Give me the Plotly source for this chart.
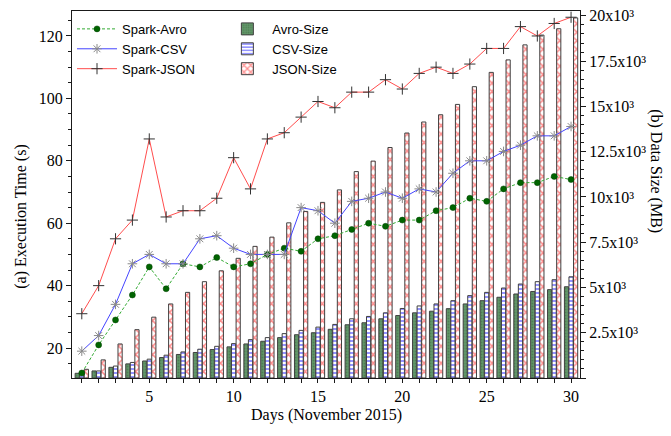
import plotly.graph_objects as go

# ---------------- data ----------------
days = list(range(1, 31))

spark_avro = [12, 21, 29, 37, 46, 39, 47, 46, 49, 46, 47, 50, 52, 51, 55,
              56, 58, 60, 59, 61, 61, 64, 65, 68, 67, 71, 73, 73, 75, 74]
spark_csv = [19, 24, 34, 47, 50, 47, 47, 55, 56, 52, 50, 50, 50, 65, 64,
             60, 67, 68, 70, 68, 71, 70, 76, 80, 80, 83, 85, 88, 88, 91]
spark_json = [31, 40, 55, 61, 87, 62, 64, 64, 68, 81, 71, 87, 89, 94, 99,
              97, 102, 102, 106, 103, 108, 110, 108, 111, 116, 116, 123, 120, 124, 126]

avro_size = [260, 390, 590, 780, 940, 1130, 1300, 1410, 1570, 1720, 1880, 2030,
             2230, 2390, 2500, 2690, 2940, 3050, 3270, 3450, 3600, 3690, 3830,
             4090, 4270, 4460, 4640, 4780, 4880, 5040]
csv_size = [300, 390, 660, 860, 1040, 1260, 1440, 1590, 1750, 1900, 2120, 2230,
            2450, 2630, 2810, 2960, 3270, 3400, 3600, 3840, 3980, 4090, 4270,
            4550, 4730, 4970, 5190, 5320, 5430, 5590]
json_size = [480, 1000, 1880, 2670, 3360, 4090, 4730, 5320, 5920, 6610, 7270, 7780,
             8570, 9200, 9700, 10390, 11400, 11980, 12730, 13530, 14140, 14540,
             15110, 16090, 16880, 17570, 18400, 18940, 19290, 19890]

x_tickvals = [5, 10, 15, 20, 25, 30]
left_tickvals = [20, 40, 60, 80, 100, 120]
right_tickvals = [0, 2500, 5000, 7500, 10000, 12500, 15000, 17500, 20000]
right_ticktext = ["", "2.5x10³", "5x10³", "7.5x10³", "10x10³", "12.5x10³",
                  "15x10³", "17.5x10³", "20x10³"]

SERIF = "Liberation Serif, Times New Roman, serif"
SANS = "Liberation Sans, Arial, sans-serif"
AXC = "#1a1a1a"

fig = go.Figure()

bar_line = dict(color="#404040", width=1)
fig.add_trace(go.Bar(
    x=days, y=avro_size, name="Avro-Size", yaxis="y", legend="legend2",
    marker=dict(color="#5b8c5b", line=bar_line,
                pattern=dict(shape=".", fgcolor="#3a683a", bgcolor="#62966a",
                             size=3, solidity=0.3))))
fig.add_trace(go.Bar(
    x=days, y=csv_size, name="CSV-Size", yaxis="y", legend="legend2",
    marker=dict(color="white", line=bar_line,
                pattern=dict(shape="-", fgcolor="#2a2aff", bgcolor="white",
                             size=4, solidity=0.5))))
fig.add_trace(go.Bar(
    x=days, y=json_size, name="JSON-Size", yaxis="y", legend="legend2",
    marker=dict(color="white", line=bar_line,
                pattern=dict(shape="x", fgcolor="#ff1a1a", bgcolor="white",
                             size=6, solidity=0.45))))

fig.add_trace(go.Scatter(
    x=days, y=spark_avro, name="Spark-Avro", yaxis="y2", mode="lines+markers",
    line=dict(color="#33aa33", width=1, dash="3px,2px"),
    marker=dict(symbol="circle", size=6, color="#006400",
                line=dict(color="#004000", width=0.5))))
fig.add_trace(go.Scatter(
    x=days, y=spark_csv, name="Spark-CSV", yaxis="y2", mode="lines+markers",
    line=dict(color="#4444ff", width=1),
    marker=dict(symbol="asterisk-open", size=8, color="#8a8a8a",
                line=dict(color="#8a8a8a", width=1))))
fig.add_trace(go.Scatter(
    x=days, y=spark_json, name="Spark-JSON", yaxis="y2", mode="lines+markers",
    line=dict(color="#ff4d4d", width=1),
    marker=dict(symbol="cross-thin-open", size=8, color="#333333",
                line=dict(color="#333333", width=1))))

axis_common = dict(showgrid=False, zeroline=False, showline=True, linecolor=AXC,
                   linewidth=1, ticks="outside", tickcolor=AXC, ticklen=5,
                   tickfont=dict(family=SERIF, size=16, color="black"))

fig.update_layout(
    width=671, height=436,
    margin=dict(l=72, r=91, t=8, b=58),
    paper_bgcolor="white", plot_bgcolor="white",
    barmode="group", bargap=0.19, bargroupgap=0.08,
    xaxis=dict(range=[0.42, 30.53], tickmode="array", tickvals=x_tickvals,
               mirror=True,
               minor=dict(tickmode="linear", tick0=0, dtick=1, ticks="outside",
                          ticklen=4, tickcolor=AXC),
               **{**axis_common, "ticklen": 4}),
    yaxis=dict(side="right", range=[0, 20270], tickmode="array",
               tickvals=right_tickvals, ticktext=right_ticktext,
               minor=dict(tickmode="linear", tick0=0, dtick=500, ticks="outside",
                          ticklen=3, tickcolor=AXC),
               **axis_common),
    yaxis2=dict(side="left", overlaying="y", range=[10.4, 128], tickmode="array",
                tickvals=left_tickvals,
                minor=dict(tickmode="linear", tick0=0, dtick=5, ticks="outside",
                           ticklen=3, tickcolor=AXC),
                **axis_common),
    legend=dict(x=0.0, y=0.992, xanchor="left", yanchor="top",
                bgcolor="rgba(0,0,0,0)", borderwidth=0, itemwidth=40,
                font=dict(family=SANS, size=13, color="black")),
    legend2=dict(x=0.296, y=0.992, xanchor="left", yanchor="top",
                 bgcolor="rgba(0,0,0,0)", borderwidth=0, itemwidth=40,
                 font=dict(family=SANS, size=13, color="black")),
    annotations=[
        dict(text="(a) Execution Time (s)", xref="paper", yref="paper",
             x=-0.102, y=0.44, xanchor="center", yanchor="middle",
             textangle=-90, showarrow=False,
             font=dict(family=SERIF, size=16, color="black")),
        dict(text="(b) Data Size (MB)", xref="paper", yref="paper",
             x=1.148, y=0.563, xanchor="center", yanchor="middle",
             textangle=90, showarrow=False,
             font=dict(family=SERIF, size=16, color="black")),
        dict(text="Days (November 2015)", xref="paper", yref="paper",
             x=0.5, y=-0.101, xanchor="center", yanchor="middle",
             showarrow=False,
             font=dict(family=SERIF, size=16, color="black")),
    ],
)

fig.write_html("out.html", config={"displayModeBar": False},
               post_script="document.body.style.margin='0';document.body.style.padding='0';")
